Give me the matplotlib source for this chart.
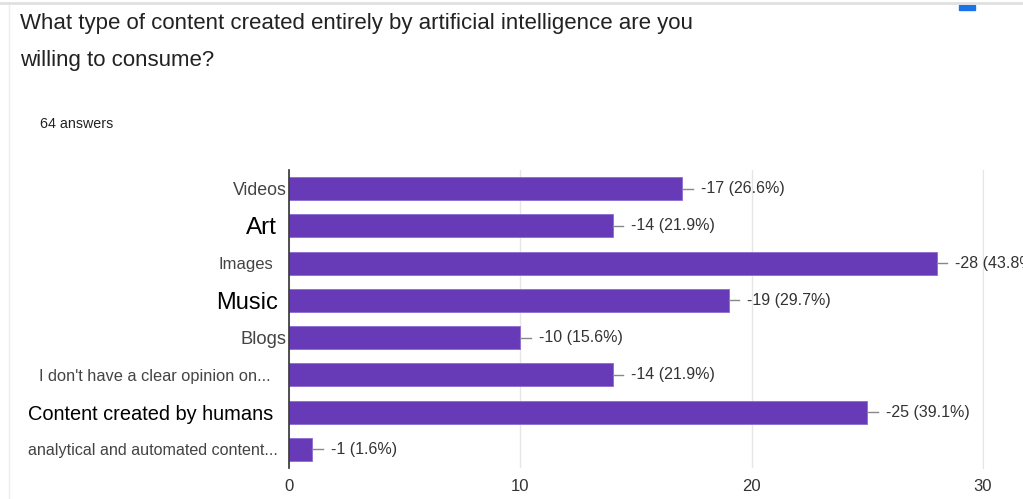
import matplotlib
matplotlib.use("Agg")
import matplotlib.pyplot as plt
from matplotlib import font_manager

categories = ["Videos", "Art", "Images", "Music", "Blogs",
              "I don't have a clear opinion on...", "Content created by humans",
              "analytical and automated content..."]
counts = [17, 14, 28, 19, 10, 14, 25, 1]
percents = [26.6, 21.9, 43.8, 29.7, 15.6, 21.9, 39.1, 1.6]
label_sizes = [12.8, 17.5, 12, 17, 13.2, 11.8, 14.4, 11.6]
label_pads = [1.8, 8.7, 11, 7.7, 1.8, 13.2, 11.2, 7.7]
label_colors = ["#444444", "#000000", "#444444", "#000000", "#444444",
                "#444444", "#000000", "#444444"]
xticks = [0, 10, 20, 30]
title = "What type of content created entirely by artificial intelligence are you\nwilling to consume?"
n_answers = "64 answers"

names = {f.name for f in font_manager.fontManager.ttflist}
title_font = "Liberation Sans Narrow" if "Liberation Sans Narrow" in names else "Liberation Sans"
plt.rcParams["font.family"] = ["Liberation Sans", "DejaVu Sans"]

fig = plt.figure(figsize=(10.23, 4.99), dpi=100)
fig.patch.set_facecolor("white")

# page frame lines
fig.add_artist(plt.Line2D([0, 1], [0.994, 0.994], color="#e0e0e0", lw=2, transform=fig.transFigure))
fig.add_artist(plt.Line2D([0.009, 0.009], [0, 0.99], color="#ececec", lw=1, transform=fig.transFigure))
fig.add_artist(plt.Rectangle((0.937, 0.980), 0.016, 0.009, color="#1a73e8", transform=fig.transFigure))

fig.text(20 / 1023, 1 - 13 / 499, title, fontsize=16, family=title_font,
         color="#222222", va="top", ha="left", linespacing=2.0)
fig.text(40 / 1023, 1 - 124 / 499, n_answers, fontsize=10.3, family=title_font,
         color="#222222", va="center", ha="left")

ax = fig.add_axes([289 / 1023, 1 - 468 / 499, (983 - 289) / 1023, (468 - 170) / 499])
y = list(range(len(categories)))
ax.barh(y, counts, height=0.62, color="#673ab7", edgecolor="#8e6bd1", linewidth=0.6, zorder=3)
ax.set_ylim(len(categories) - 0.5, -0.5)
ax.set_xlim(0, 30)

for yi, c, p in zip(y, counts, percents):
    ax.plot([c, c + 0.45], [yi, yi], color="#888888", lw=1, zorder=3, clip_on=False)
    ax.text(c + 0.8, yi, f"-{c} ({p}%)", va="center", ha="left", fontsize=11.5,
            color="#333333", clip_on=False)

ax.set_yticks(y)
ax.set_yticklabels(categories)
ax.tick_params(axis="y", length=0)
for tick, s, col, pad in zip(ax.yaxis.get_major_ticks(), label_sizes, label_colors, label_pads):
    tick.label1.set_fontsize(s)
    tick.label1.set_color(col)
    tick.set_pad(pad)

ax.set_xticks(xticks)
ax.set_xticklabels([str(t) for t in xticks])
ax.tick_params(axis="x", length=0, pad=8, labelsize=12, labelcolor="#333333")
ax.grid(axis="x", color="#e6e6e6", lw=1, zorder=0)

for side in ["top", "bottom"]:
    ax.spines[side].set_visible(False)
ax.spines["right"].set_color("#e6e6e6")
ax.spines["left"].set_color("#333333")
ax.spines["left"].set_linewidth(1.2)
ax.spines["left"].set_zorder(4)

fig.savefig("out.png", dpi=100)
